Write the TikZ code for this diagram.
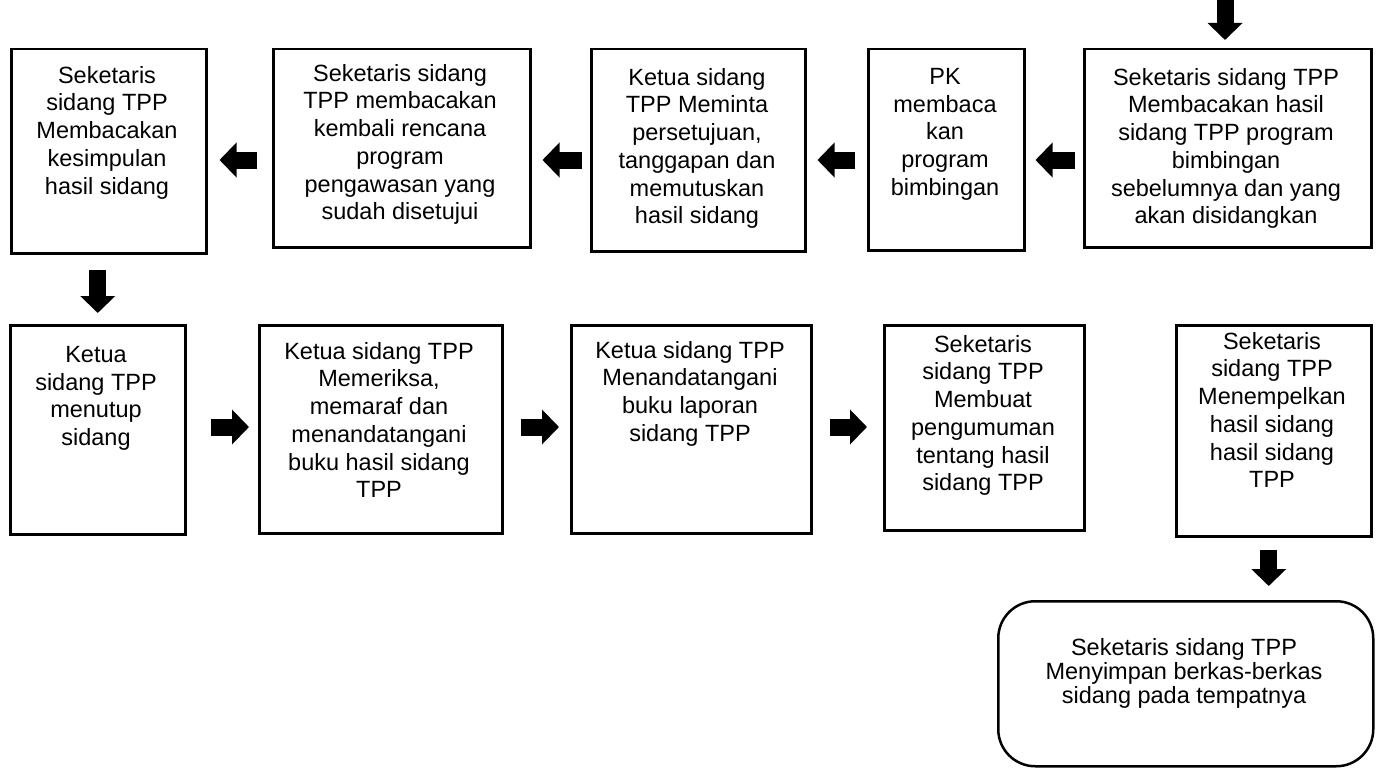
\documentclass[tikz,border=0pt]{standalone}
\usepackage{fontspec}
\setmainfont{Liberation Sans}
\usetikzlibrary{arrows.meta}
\tikzset{
 kotak/.style={draw,line width=2.5pt,rectangle,anchor=north west,inner sep=0pt},
 teks/.style={anchor=north,align=center,inner sep=0pt,font=\fontsize{23.5}{27.7}\selectfont},
 blok/.style={line width=17pt,-{Triangle[length=17pt,width=34pt]}}
}
\begin{document}
\begin{tikzpicture}[x=1pt,y=-1pt]
 \useasboundingbox (0,0) rectangle (1376,768);
 % baris atas
 \node[kotak,minimum width=195pt,minimum height=204pt] (k1) at (10,48) {};
 \node[kotak,minimum width=257pt,minimum height=198pt] (k2) at (272,48) {};
 \node[kotak,minimum width=214pt,minimum height=202pt] (k3) at (590,48) {};
 \node[kotak,minimum width=156pt,minimum height=201pt] (k4) at (867,48) {};
 \node[kotak,minimum width=287pt,minimum height=198pt] (k5) at (1083,48) {};
 \node[teks] (t1) at (107,66) {Seketaris\\sidang TPP\\Membacakan\\kesimpulan\\hasil sidang};
 \node[teks] (t2) at (400,64) {Seketaris sidang\\TPP membacakan\\kembali rencana\\program\\pengawasan yang\\sudah disetujui};
 \node[teks] (t3) at (697,68) {Ketua sidang\\TPP Meminta\\persetujuan,\\tanggapan dan\\memutuskan\\hasil sidang};
 \node[teks] (t4) at (945,68) {PK\\membaca\\kan\\program\\bimbingan};
 \node[teks] (t5) at (1226,68) {Seketaris sidang TPP\\Membacakan hasil\\sidang TPP program\\bimbingan\\sebelumnya dan yang\\akan disidangkan};
 % baris bawah
 \node[kotak,minimum width=175pt,minimum height=209pt] (l1) at (9,324) {};
 \node[kotak,minimum width=243pt,minimum height=208pt] (l2) at (258,324) {};
 \node[kotak,minimum width=240pt,minimum height=208pt] (l3) at (570,324) {};
 \node[kotak,minimum width=200pt,minimum height=205pt] (l4) at (883,324) {};
 \node[kotak,minimum width=195pt,minimum height=211pt] (l5) at (1175,324) {};
 \node[teks] (u1) at (96,346) {Ketua\\sidang TPP\\menutup\\sidang};
 \node[teks] (u2) at (379,342) {Ketua sidang TPP\\Memeriksa,\\memaraf dan\\menandatangani\\buku hasil sidang\\TPP};
 \node[teks] (u3) at (690,341) {Ketua sidang TPP\\Menandatangani\\buku laporan\\sidang TPP};
 \node[teks] (u4) at (983,335) {Seketaris\\sidang TPP\\Membuat\\pengumuman\\tentang hasil\\sidang TPP};
 \node[teks] (u5) at (1272,332) {Seketaris\\sidang TPP\\Menempelkan\\hasil sidang\\hasil sidang\\TPP};
 % akhir
 \node[kotak,rounded corners=37pt,minimum width=375pt,minimum height=165pt] (akhir) at (997,600) {};
 \node[teks,font=\fontsize{23.5}{24}\selectfont] (ta) at (1184,638) {Seketaris sidang TPP\\Menyimpan berkas-berkas\\sidang pada tempatnya};
 % panah
 \coordinate (mulai) at (1225,0);
 \draw[blok,shorten >=8pt] (mulai) -- (mulai |- k5.north);
 \draw[blok,shorten <=8pt,shorten >=10pt] ([yshift=-112pt]k5.north west) -- ([yshift=-112pt]k4.north east);
 \draw[blok,shorten <=12pt,shorten >=11pt] ([yshift=-112pt]k4.north west) -- ([yshift=-112pt]k3.north east);
 \draw[blok,shorten <=8pt,shorten >=11pt] ([yshift=-112pt]k3.north west) -- ([yshift=-112pt]k2.north east);
 \draw[blok,shorten <=15pt,shorten >=12pt] ([yshift=-112pt]k2.north west) -- ([yshift=-112pt]k1.north east);
 \draw[blok,shorten <=15pt,shorten >=11pt] (l1.north |- k1.south) -- (l1.north);
 \draw[blok,shorten <=24pt,shorten >=9pt] ([yshift=-103pt]l1.north east) -- ([yshift=-103pt]l2.north west);
 \draw[blok,shorten <=17pt,shorten >=11pt] ([yshift=-103pt]l2.north east) -- ([yshift=-103pt]l3.north west);
 \draw[blok,shorten <=17pt,shorten >=16pt] ([yshift=-103pt]l3.north east) -- ([yshift=-103pt]l4.north west);
 \draw[blok,shorten <=12pt,shorten >=14pt] ([xshift=-5pt]l5.south) -- ([xshift=-5pt]l5.south |- akhir.north);
\end{tikzpicture}
\end{document}
